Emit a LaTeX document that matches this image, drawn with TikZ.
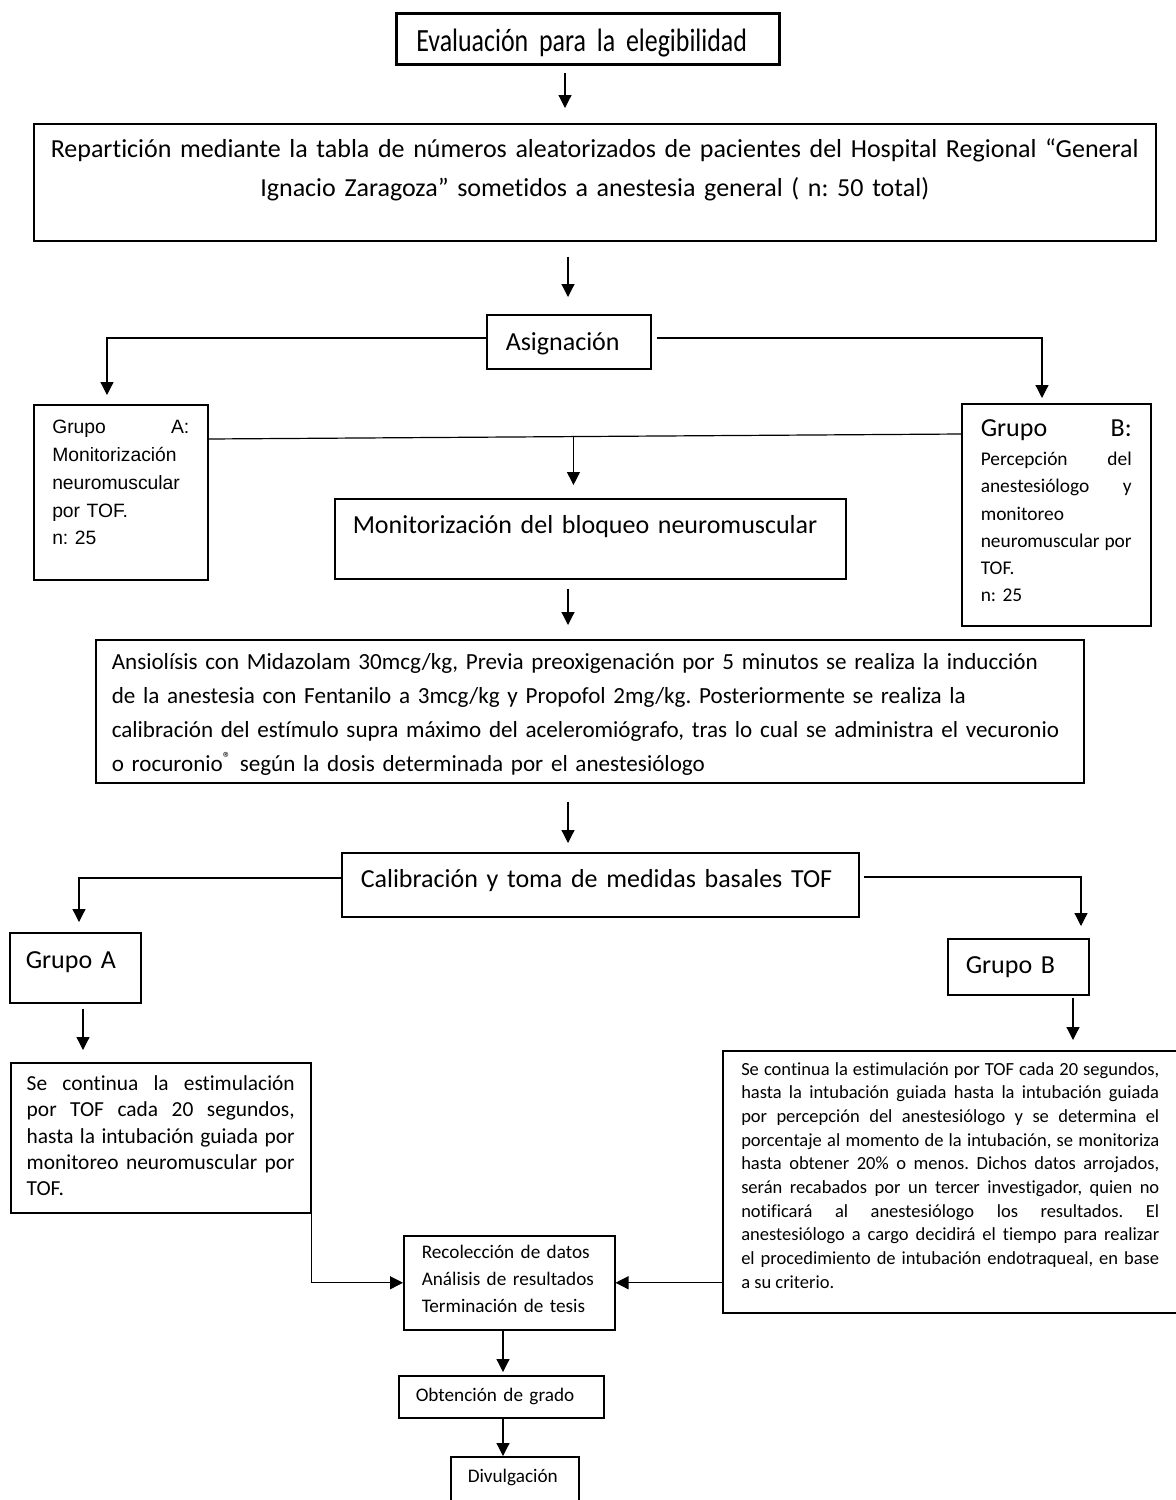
\documentclass[tikz,border=0pt]{standalone}
\usepackage{fontspec}
\setmainfont{Carlito}[Ligatures=NoCommon]
\newfontfamily\arialfont{Liberation Sans}
\newfontfamily\narrowfont{Carlito}[FakeStretch=0.8, WordSpace=0.8, Ligatures=NoCommon]
\usetikzlibrary{arrows.meta}
\frenchspacing

\begin{document}
\begin{tikzpicture}[x=0.5pt, y=-0.5pt,
  box/.style={draw=black, line width=0.75pt, anchor=north west, inner xsep=0pt, inner ysep=0pt},
  vpos/.style 2 args={text height=#1, text depth=#2},
  head/.style={font=\fontsize{13}{16}\selectfont},
  small/.style={font=\fontsize{9.6}{13.5}\selectfont},
  arr/.style={-{Triangle[length=6.5pt,width=6.5pt]}, line width=0.6pt},
  ln/.style={line width=0.6pt}]
\useasboundingbox (0,0) rectangle (1176,1500);

% boxes, top to bottom
\node[box, line width=1.4pt, minimum width=191.5pt, text width=171.5pt, align=left, vpos={19pt}{6.5pt}, font=\narrowfont\fontsize{16.2}{19}\selectfont] (eval) at (395,12) {Evaluación para la elegibilidad};
\node[box, minimum width=561pt, text width=556pt, align=center, vpos={17pt}{41.5pt}, font=\fontsize{13}{19.5}\selectfont] (repart) at (33,123) {Repartición mediante la tabla de números aleatorizados de pacientes del Hospital Regional “General\\ Ignacio Zaragoza” sometidos a anestesia general ( n: 50 total)};
\node[box, minimum width=82pt, text width=63pt, align=left, vpos={18pt}{9pt}, head] (asig) at (486,314) {Asignación};
\node[box, minimum width=87pt, text width=68.5pt, align=left, vpos={14.5pt}{73pt}, font=\arialfont\fontsize{9.65}{13.9}\selectfont] (grpA) at (33,404) {Grupo\hfill A:\\ Monitorización\\ neuromuscular\\ por TOF.\\ n: 25};
\node[box, minimum width=94.5pt, text width=75.5pt, align=left, vpos={16.5pt}{94.5pt}, font=\fontsize{9.7}{13.6}\selectfont] (grpB) at (961,403) {{\fontsize{13}{16}\selectfont Grupo\hfill B:}\\[0.9pt] Percepción\hfill del\\ anestesiólogo\hfill y\\ monitoreo\\ neuromuscular\hfill por\\ TOF.\\ n: 25};
\node[box, minimum width=255.5pt, text width=237.5pt, align=left, vpos={17.5pt}{22.5pt}, head] (monit) at (334,498) {Monitorización del bloqueo neuromuscular};
\node[box, minimum width=494pt, text width=478pt, align=left, vpos={15pt}{56.5pt}, font=\fontsize{11.55}{17}\selectfont] (ansio) at (95,639) {Ansiolísis con Midazolam 30mcg/kg, Previa preoxigenación por 5 minutos se realiza la inducción\\ de la anestesia con Fentanilo a 3mcg/kg y Propofol 2mg/kg. Posteriormente se realiza la\\ calibración del estímulo supra máximo del aceleromiógrafo, tras lo cual se administra el vecuronio\\ o rocuronio\textsuperscript{®} según la dosis determinada por el anestesiólogo};
\node[box, minimum width=258.5pt, text width=239.5pt, align=left, vpos={17.5pt}{14.5pt}, head] (calib) at (341,852) {Calibración y toma de medidas basales TOF};
\node[box, minimum width=65.5pt, text width=49.5pt, align=left, vpos={18pt}{17pt}, head] (grpA2) at (9,932) {Grupo A};
\node[box, minimum width=70.5pt, text width=52.5pt, align=left, vpos={17.5pt}{10.5pt}, head] (grpB2) at (947,938) {Grupo B};
\node[box, minimum width=150pt, text width=134pt, align=justify, vpos={14pt}{61pt}, font=\fontsize{10.7}{13.1}\selectfont] (contA) at (10,1062) {Se continua la estimulación\linebreak por TOF cada 20 segundos,\linebreak hasta la intubación guiada por\linebreak monitoreo neuromuscular por\linebreak TOF.};
\node[box, minimum width=227.5pt, text width=209pt, align=justify, vpos={12.25pt}{118.75pt}, font=\fontsize{9.25}{11.83}\selectfont] (contB) at (722,1050) {Se continua la estimulación por TOF cada 20 segundos,\linebreak hasta la intubación guiada hasta la intubación guiada\linebreak por percepción del anestesiólogo y se determina el\linebreak porcentaje al momento de la intubación, se monitoriza\linebreak hasta obtener 20\% o menos. Dichos datos arrojados,\linebreak serán recabados por un tercer investigador, quien no\linebreak notificará al anestesiólogo los resultados. El\linebreak anestesiólogo a cargo decidirá el tiempo para realizar\linebreak el procedimiento de intubación endotraqueal, en base\linebreak a su criterio.};
\node[box, minimum width=105.5pt, text width=87.5pt, align=left, vpos={11.25pt}{35.75pt}, small] (recol) at (403,1235) {Recolección de datos\\ Análisis de resultados\\ Terminación de tesis};
\node[box, minimum width=102.5pt, text width=85.5pt, align=left, vpos={12.75pt}{8.25pt}, small] (obt) at (398,1375) {Obtención de grado};
\node[box, minimum width=64pt, text width=47pt, align=left, vpos={12.75pt}{20pt}, small] (divul) at (450,1456) {Divulgación};

% connectors
\draw[arr, shorten <=3.5pt, shorten >=7.5pt] (565,0 |- eval.south) -- (565,0 |- repart.north);
\draw[arr, shorten <=7.5pt, shorten >=8.5pt] (568,0 |- repart.south) -- (568,0 |- asig.north);
\draw[arr, shorten >=4.5pt] (asig.west |- 0,338) -| (107,0 |- grpA.north);
\draw[arr, shorten <=2.5pt, shorten >=2.5pt] (asig.east |- 0,338) -| (1042,0 |- grpB.north);
\draw[ln] (grpA.east |- 0,439) -- coordinate[pos=0.485] (split) (grpB.west |- 0,434);
\draw[arr, shorten >=6.5pt] (split) -- (split |- monit.north);
\draw[arr, shorten <=4.5pt, shorten >=7pt] (568,0 |- monit.south) -- (568,0 |- ansio.north);
\draw[arr, shorten <=9pt, shorten >=4.5pt] (568,0 |- ansio.south) -- (568,0 |- calib.north);
\draw[arr, shorten >=5pt] (calib.west |- 0,878) -| (79,0 |- grpA2.north);
\draw[arr, shorten <=2pt, shorten >=6pt] (calib.east |- 0,877) -| (1081,0 |- grpB2.north);
\draw[arr, shorten <=2.5pt, shorten >=6pt] (83,0 |- grpA2.south) -- (83,0 |- contA.north);
\draw[arr, shorten <=1pt, shorten >=5pt] (1073,0 |- grpB2.south) -- (1073,0 |- contB.north);
\draw[arr] (contA.south east) |- (recol.west);
\draw[arr] (contB.west |- recol.east) -- (recol.east);
\draw[arr, shorten >=1.5pt] (503,0 |- recol.south) -- (503,0 |- obt.north);
\draw[arr] (503,0 |- obt.south) -- (503,0 |- divul.north);
\end{tikzpicture}
\end{document}
